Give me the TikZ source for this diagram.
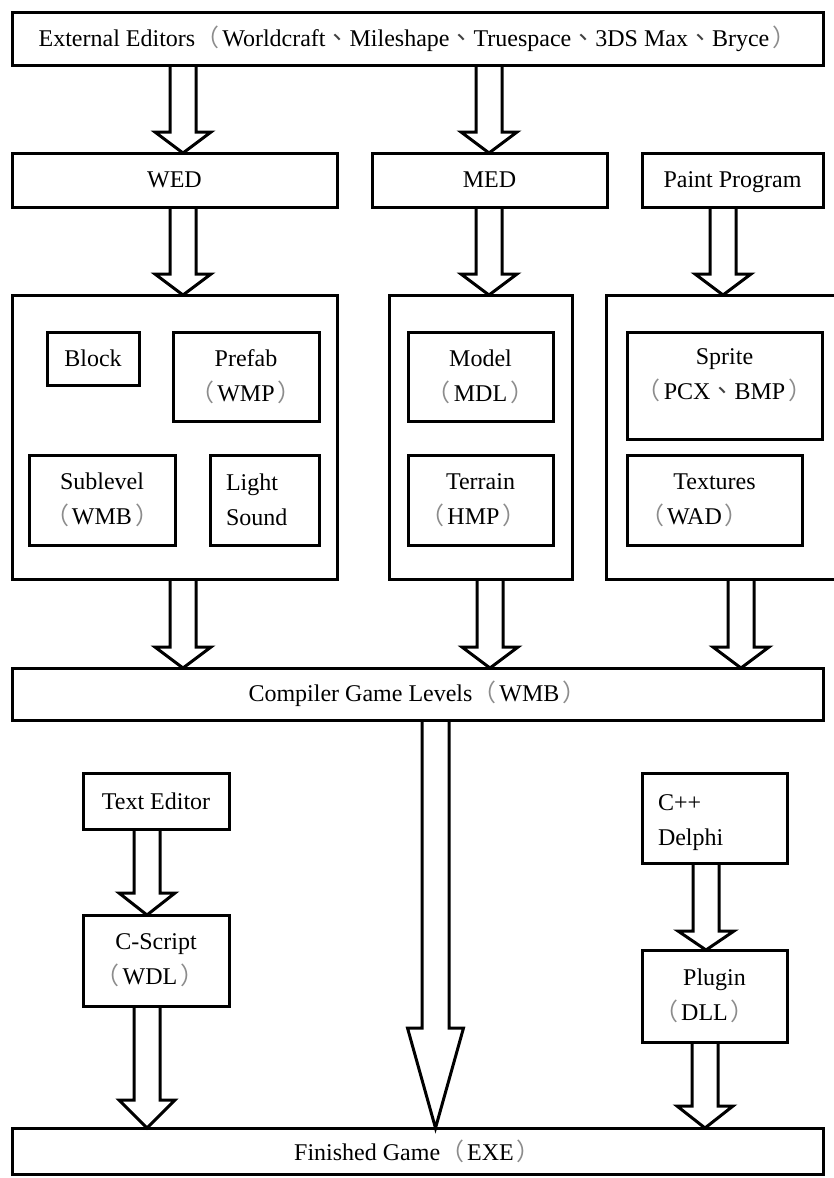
\documentclass[tikz,border=0pt]{standalone}
\usepackage{fontspec}
\setmainfont{Liberation Serif}
\newfontfamily\cjkpunct{Noto Sans CJK TC}
\usetikzlibrary{calc}

% full-width punctuation, with the bracket ink kept clear of the words
\newcommand\zlp{{\cjkpunct\color{black!45}（}\hspace{3pt}}
\newcommand\zrp{\hspace{3pt}{\cjkpunct\color{black!45}）}}
\newcommand\zdun{{\cjkpunct\color{black!75}、}}

\tikzset{
  box/.style={draw, line width=3pt, inner sep=0pt, outer sep=0pt,
              anchor=north west, align=center},
  boxtext/.style={inner sep=0pt, outer sep=0pt},
  hollow/.style={draw, line width=3pt, line join=miter, miter limit=10},
}

% hollow block arrow: x, source node, target node, head length, shaft half width, head half width
\newcommand\hollowarrow[6]{%
  \draw[hollow] let \p1=(#2.south), \p2=(#3.north) in
    ({#1pt-#5pt},\y1) -- ({#1pt-#5pt},{\y2+#4pt}) -- ({#1pt-#6pt},{\y2+#4pt})
    -- ({#1pt},\y2) -- ({#1pt+#6pt},{\y2+#4pt}) -- ({#1pt+#5pt},{\y2+#4pt})
    -- ({#1pt+#5pt},\y1);
}

\begin{document}
\begin{tikzpicture}[x=1pt, y=-1pt, font=\fontsize{24}{35}\selectfont]
\useasboundingbox (0,0) rectangle (834,1178);

% top row
\node[box, minimum width=811pt, minimum height=53pt] (ext) at (12,12)
  {External Editors\zlp Worldcraft\zdun Mileshape\zdun Truespace\zdun 3DS Max\zdun Bryce\zrp};

% editors
\node[box, minimum width=325pt, minimum height=54pt] (wed) at (12,153) {WED};
\node[box, minimum width=235pt, minimum height=54pt] (med) at (372,153) {MED};
\node[box, minimum width=181pt, minimum height=54pt, text depth=0pt] (paint) at (642,153) {Paint Program};

% asset groups
\node[box, minimum width=325pt, minimum height=284pt] (bigL) at (12,295) {};
\node[box, minimum width=183pt, minimum height=284pt] (bigM) at (389,295) {};
\node[box, minimum width=234pt, minimum height=284pt] (bigR) at (606,295) {};

\node[box, minimum width=92pt, minimum height=53pt] (block) at (47,332) {Block};
\node[box, minimum width=146pt, minimum height=89pt] (prefab) at (173,332) {Prefab\\\zlp WMP\zrp};
\node[box, minimum width=146pt, minimum height=90pt] (sublevel) at (29,455) {Sublevel\\\zlp WMB\zrp};
\node[box, minimum width=109pt, minimum height=90pt,
      label={[boxtext, name=lighttxt, anchor=west, xshift=16pt, align=left]west:Light\\Sound}] (light) at (210,455) {};

\node[box, minimum width=145pt, minimum height=89pt] (model) at (408,332) {Model\\\zlp MDL\zrp};
\node[box, minimum width=145pt, minimum height=90pt] (terrain) at (408,455) {Terrain\\\zlp HMP\zrp\hspace*{14pt}};

\node[box, minimum width=195pt, minimum height=107pt,
      label={[boxtext, name=spritetxt, align=center, yshift=10pt]center:Sprite\\\zlp PCX\zdun BMP\zrp}] (sprite) at (627,332) {};
\node[box, minimum width=175pt, minimum height=90pt] (textures) at (627,455) {Textures\\\zlp WAD\zrp\hspace*{40pt}};

% compiler
\node[box, minimum width=811pt, minimum height=52pt] (comp) at (12,668) {Compiler Game Levels\zlp WMB\zrp};

% scripts and plugins
\node[box, minimum width=146pt, minimum height=56pt] (texted) at (83,773) {Text Editor};
\node[box, minimum width=146pt, minimum height=91pt] (cscript) at (83,915) {C-Script\\\zlp WDL\zrp\hspace*{12pt}};
\node[box, minimum width=145pt, minimum height=90pt,
      label={[boxtext, name=cpptxt, anchor=west, xshift=16pt, yshift=-5pt, align=left]west:C++\\Delphi}] (cpp) at (642,773) {};
\node[box, minimum width=145pt, minimum height=92pt] (plugin) at (642,950) {Plugin\\\zlp DLL\zrp\hspace*{20pt}};

% result
\node[box, minimum width=811pt, minimum height=46pt] (fin) at (12,1128) {Finished Game\zlp EXE\zrp};

% flows
\hollowarrow{183}{ext}{wed}{21}{13}{28}
\hollowarrow{489}{ext}{med}{21}{13}{28}
\hollowarrow{183}{wed}{bigL}{21}{13}{28}
\hollowarrow{489}{med}{bigM}{21}{13}{28}
\hollowarrow{723}{paint}{bigR}{21}{13}{28}
\hollowarrow{183}{bigL}{comp}{21}{13}{28}
\hollowarrow{490}{bigM}{comp}{21}{13}{28}
\hollowarrow{741}{bigR}{comp}{21}{13}{28}
\hollowarrow{147}{texted}{cscript}{22}{13}{28}
\hollowarrow{147}{cscript}{fin}{28}{13}{28}
\hollowarrow{706}{cpp}{plugin}{19}{13}{28}
\hollowarrow{705}{plugin}{fin}{22}{13}{28}
\hollowarrow{435.5}{comp}{fin}{100}{13.5}{28}
\end{tikzpicture}
\end{document}
